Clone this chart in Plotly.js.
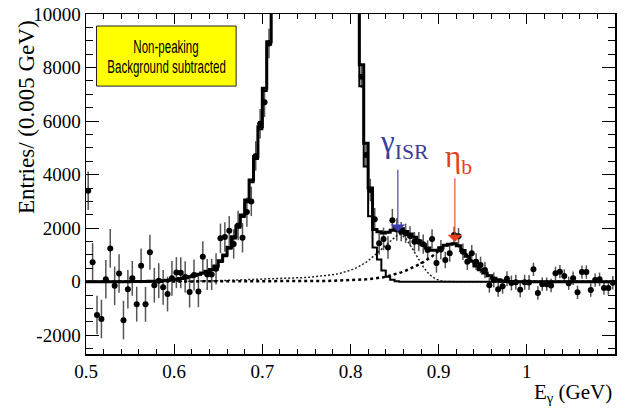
<!DOCTYPE html>
<html>
<head>
<meta charset="utf-8">
<script src="https://cdn.plot.ly/plotly-3.0.1.min.js"></script>
<style>
  html, body { margin: 0; padding: 0; background: #ffffff; }
  #chart { width: 626px; height: 411px; }
</style>
</head>
<body>
<div id="chart"></div>
<script>
// ---- Binning (0.005 GeV bins from 0.5 to 1.1 GeV) ----
const E_MIN = 0.5;
const BIN_W = 0.005;

// ---- Data points (Entries per bin, background subtracted); null = off scale ----
const dataValues = [
  3400, 725, -1240, -1390, 95, 1245, -155, 310, -1435, -278,
  125, -840, 595, -845, 1100, -130, 40, -210, -460, 125,
  340, 335, 180, -385, 250, -370, 935, 270, 270, 480,
  1620, 1670, 1900, 1410, 2100, 1640, 2600, 3000, 4700, 5900,
  6700, 8900, null, null, null, null, null, null, null, null,
  null, null, null, null, null, null, null, null, null, null,
  null, null, 7660, 4730, 3425, 2330, 1435, 1600, 1280, 2300,
  1950, 1870, 1810, 1710, 1495, 1495, 1400, 1185, 1600, 700,
  1200, 810, 1060, 1745, 1700, 1120, 750, 1060, 750, 625,
  437, -130, 63, -284, -170, 110, -50, -20, -300, -20,
  -30, 463, -420, -90, -90, -140, 313, 375, 213, -60,
  127, -396, 360, 360, -310, 60, 90, -235, -235, -37
];
const dataErrors = [
  720, 720, 720, 720, 720, 720, 720, 720, 720, 720,
  650, 650, 650, 650, 650, 650, 650, 650, 650, 650,
  580, 580, 580, 580, 580, 580, 580, 580, 580, 580,
  550, 550, 550, 550, 550, 550, 550, 550, 550, 550,
  550, 550, 0, 0, 0, 0, 0, 0, 0, 0,
  0, 0, 0, 0, 0, 0, 0, 0, 0, 0,
  0, 0, 420, 420, 420, 420, 420, 420, 420, 420,
  420, 360, 360, 360, 360, 360, 360, 360, 360, 360,
  360, 310, 310, 310, 310, 310, 310, 310, 310, 310,
  310, 280, 280, 280, 280, 280, 280, 280, 280, 280,
  280, 250, 250, 250, 250, 250, 250, 250, 250, 250,
  250, 250, 250, 250, 250, 250, 250, 250, 250, 250
];

// ---- Total fit (thick histogram) ----
const fitTotal = [
  0, 0, 0, 0, 0, 0, 0, 0, 0, 0,
  5, 5, 10, 10, 15, 20, 30, 40, 55, 70,
  90, 120, 150, 190, 230, 280, 330, 390, 460, 590,
  785, 1000, 1285, 1680, 2080, 2490, 3050, 3800, 4670, 5790,
  7225, 8965, 11500, 14500, 18000, 22000, 26000, 30000, 34000, 38000,
  42000, 45000, 47000, 48000, 47000, 44000, 39000, 32000, 25000, 18000,
  13500, 10800, 8100, 5170, 3500, 1950, 1870, 1820, 1850, 1920,
  2000, 1980, 1880, 1780, 1660, 1520, 1380, 1260, 1180, 1180,
  1270, 1360, 1400, 1420, 1340, 1170, 950, 760, 590, 450,
  330, 220, 130, 70, 30, 10, 0, 0, 0, 0,
  0, 0, 0, 0, 0, 0, 0, 0, 0, 0,
  0, 0, 0, 0, 0, 0, 0, 0, 0, 0
];

// ---- Main peak component (thin solid histogram) ----
const fitPeak = [
  0, 0, 0, 0, 0, 0, 0, 0, 0, 0,
  5, 5, 10, 10, 15, 20, 30, 40, 55, 70,
  85, 115, 145, 185, 215, 260, 305, 360, 425, 550,
  737, 947, 1227, 1617, 2012, 2417, 2972, 3717, 4582, 5697,
  7123, 8858, 11390, 14380, 17870, 21860, 25850, 29840, 33830, 37830,
  41820, 44800, 46790, 47770, 46750, 43720, 38690, 31650, 24600, 17540,
  13000, 10200, 7300, 4300, 2450, 1280, 830, 420, 190, 70,
  20, 0, 0, 0, 0, 0, 0, 0, 0, 0,
  0, 0, 0, 0, 0, 0, 0, 0, 0, 0,
  0, 0, 0, 0, 0, 0, 0, 0, 0, 0,
  0, 0, 0, 0, 0, 0, 0, 0, 0, 0,
  0, 0, 0, 0, 0, 0, 0, 0, 0, 0
];

// ---- gamma_ISR component (dotted) ----
const fitISR = [
  0, 0, 0, 0, 0, 0, 0, 0, 0, 0,
  0, 0, 0, 0, 0, 0, 0, 0, 0, 0,
  0, 0, 0, 0, 10, 15, 20, 25, 30, 35,
  40, 45, 50, 55, 60, 65, 70, 75, 80, 85,
  90, 95, 100, 108, 115, 122, 130, 138, 145, 155,
  165, 178, 190, 205, 220, 245, 270, 305, 350, 400,
  460, 530, 620, 720, 850, 1000, 1150, 1300, 1450, 1600,
  1720, 1770, 1620, 1380, 1100, 820, 560, 340, 190, 90,
  35, 10, 0, 0, 0, 0, 0, 0, 0, 0,
  0, 0, 0, 0, 0, 0, 0, 0, 0, 0,
  0, 0, 0, 0, 0, 0, 0, 0, 0, 0,
  0, 0, 0, 0, 0, 0, 0, 0, 0, 0
];

// ---- eta_b component (dashed) ----
const fitEtaB = [
  0, 0, 0, 0, 0, 0, 0, 0, 0, 0,
  0, 0, 0, 0, 0, 0, 0, 0, 0, 0,
  5, 5, 5, 5, 5, 5, 5, 5, 5, 5,
  8, 8, 8, 8, 8, 8, 8, 8, 8, 8,
  12, 12, 12, 12, 12, 12, 12, 12, 12, 12,
  18, 20, 22, 25, 28, 32, 36, 42, 48, 55,
  62, 70, 80, 90, 105, 120, 140, 165, 210, 250,
  300, 350, 410, 480, 560, 640, 730, 830, 950, 1080,
  1230, 1340, 1400, 1420, 1340, 1170, 950, 760, 590, 450,
  330, 220, 130, 70, 30, 10, 0, 0, 0, 0,
  0, 0, 0, 0, 0, 0, 0, 0, 0, 0,
  0, 0, 0, 0, 0, 0, 0, 0, 0, 0
];

// ---- Axis tick labels ----
const xTickVals = [0.5, 0.6, 0.7, 0.8, 0.9, 1.0, 1.1];
const xTickText = ["0.5", "0.6", "0.7", "0.8", "0.9", "1", "1.1"];
const yTickVals = [-2000, 0, 2000, 4000, 6000, 8000, 10000];
const yTickText = ["-2000", "0", "2000", "4000", "6000", "8000", "10000"];

// ---- Derived coordinates ----
const N = dataValues.length;
const centers = dataValues.map((_, i) => +(E_MIN + BIN_W * (i + 0.5)).toFixed(5));
function stepTrace(vals) {
  const xs = vals.map((_, i) => +(E_MIN + BIN_W * i).toFixed(5));
  xs.push(+(E_MIN + BIN_W * N).toFixed(5));
  const ys = vals.slice();
  ys.push(vals[vals.length - 1]);
  return { x: xs, y: ys };
}
const stTotal = stepTrace(fitTotal);
const stPeak = stepTrace(fitPeak);

const serif = "Liberation Serif, Times New Roman, serif";
const boxFont = "Liberation Sans, Arial, sans-serif";

const traces = [
  {
    type: "scatter", mode: "markers", x: centers, y: dataValues,
    marker: { color: "#000000", size: 6 },
    error_y: { type: "data", array: dataErrors, visible: true, color: "#555555", thickness: 1.5, width: 0 },
    hoverinfo: "skip", showlegend: false
  },
  {
    type: "scatter", mode: "lines", x: centers, y: fitISR,
    line: { color: "#222222", width: 1.5, dash: "2px,2px" },
    hoverinfo: "skip", showlegend: false
  },
  {
    type: "scatter", mode: "lines", x: centers, y: fitEtaB,
    line: { color: "#000000", width: 2.5, dash: "3px,3px" },
    hoverinfo: "skip", showlegend: false
  },
  {
    type: "scatter", mode: "lines", x: stPeak.x, y: stPeak.y,
    line: { color: "#000000", width: 2, shape: "hv" },
    hoverinfo: "skip", showlegend: false
  },
  {
    type: "scatter", mode: "lines", x: stTotal.x, y: stTotal.y,
    line: { color: "#000000", width: 3, shape: "hv" },
    hoverinfo: "skip", showlegend: false
  }
];

const layout = {
  width: 626, height: 411,
  margin: { l: 86, r: 11, t: 14, b: 57, pad: 0 },
  paper_bgcolor: "#ffffff", plot_bgcolor: "#ffffff",
  showlegend: false,
  font: { family: serif, color: "#000000" },
  xaxis: {
    range: [0.5, 1.1], tickmode: "array", tickvals: xTickVals, ticktext: xTickText,
    ticks: "inside", ticklen: 10, tickwidth: 1, tickcolor: "#000000",
    minor: { dtick: 0.02, tick0: 0.5, ticks: "inside", ticklen: 5, tickwidth: 1, tickcolor: "#000000" },
    showline: true, linecolor: "#000000", linewidth: 1.5, mirror: "allticks",
    showgrid: false, zeroline: false,
    tickfont: { family: serif, size: 19, color: "#000000" }
  },
  yaxis: {
    range: [-2700, 10000], tickmode: "array", tickvals: yTickVals, ticktext: yTickText,
    ticks: "inside", ticklen: 13, tickwidth: 1, tickcolor: "#000000",
    minor: { dtick: 500, tick0: 0, ticks: "inside", ticklen: 7, tickwidth: 1, tickcolor: "#000000" },
    showline: true, linecolor: "#000000", linewidth: 1.5, mirror: "allticks",
    showgrid: false, zeroline: false,
    tickfont: { family: serif, size: 19, color: "#000000" }
  },
  shapes: [
    { type: "rect", xref: "paper", yref: "paper", x0: 0.0199, x1: 0.2838, y0: 0.788, y1: 0.9647,
      fillcolor: "#ffff00", line: { color: "#222222", width: 1 }, layer: "above" }
  ],
  annotations: [
    { xref: "paper", yref: "paper", x: 0.152, y: (354 - 47) / 340, text: "Non-peaking",
      showarrow: false, xanchor: "center", yanchor: "middle",
      font: { family: boxFont, size: 18, color: "#000000" } },
    { xref: "paper", yref: "paper", x: 0.152, y: (354 - 67) / 340, text: "Background subtracted",
      showarrow: false, xanchor: "center", yanchor: "middle",
      font: { family: boxFont, size: 18, color: "#000000" } },
    { xref: "paper", yref: "paper", x: (26 - 86) / 529, y: (354 - 117) / 340, text: "Entries/ (0.005 GeV)",
      textangle: -90, showarrow: false, xanchor: "center", yanchor: "middle",
      font: { family: serif, size: 23, color: "#000000" } },
    { xref: "paper", yref: "paper", x: 0.998, y: (354 - 393) / 340, text: "E<sub>γ</sub> (GeV)",
      showarrow: false, xanchor: "right", yanchor: "middle",
      font: { family: serif, size: 21, color: "#000000" } },
    { x: 0.8537, y: 1868, ax: 0.8537, ay: 4236, axref: "x", ayref: "y", text: "",
      showarrow: true, arrowhead: 1, arrowsize: 2.2, arrowwidth: 1.1, arrowcolor: "#3b3bb0", standoff: 0 },
    { x: 0.9184, y: 1483, ax: 0.9184, ay: 3922, axref: "x", ayref: "y", text: "",
      showarrow: true, arrowhead: 1, arrowsize: 2.2, arrowwidth: 1.1, arrowcolor: "#e8401c", standoff: 0 },
    { x: 0.8613, y: 5150, text: "γ<sub>ISR</sub>", showarrow: false, xanchor: "center", yanchor: "middle",
      font: { family: serif, size: 31, color: "#3b3b9b" } },
    { x: 0.922, y: 4600, text: "η<sub>b</sub>", showarrow: false, xanchor: "center", yanchor: "middle",
      font: { family: serif, size: 31, color: "#e8401c" } }
  ]
};

Plotly.newPlot("chart", traces, layout, { staticPlot: true, displayModeBar: false }).then(() => {
  // Condense the text inside the yellow box (narrow font look of the reference)
  document.querySelectorAll("#chart text.annotation-text").forEach(t => {
    const s = t.textContent;
    if (s === "Non-peaking" || s === "Background subtracted") {
      t.style.transformBox = "fill-box";
      t.style.transformOrigin = "center";
      t.style.transform = "scaleX(0.64)";
    }
  });
});
</script>
</body>
</html>
